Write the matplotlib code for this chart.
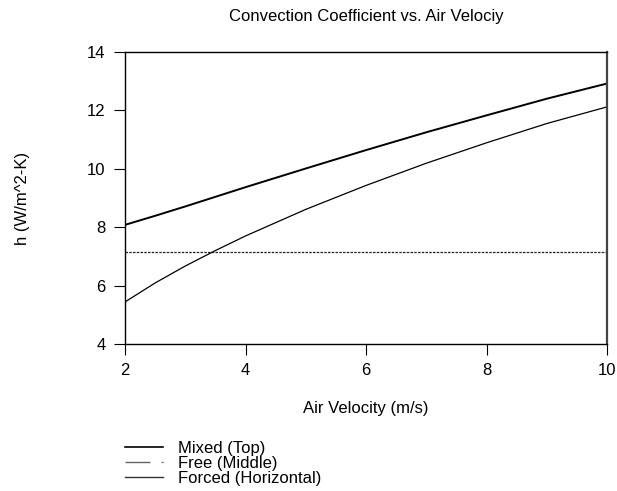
import numpy as np
import matplotlib.pyplot as plt
from matplotlib.lines import Line2D

plt.rcParams['font.family'] = ['Liberation Sans', 'DejaVu Sans']

# 读图得到的数据
velocity = [2, 2.5, 3, 3.5, 4, 5, 6, 7, 8, 9, 10]
h_mixed = [8.08, 8.39, 8.71, 9.04, 9.37, 10.01, 10.64, 11.25, 11.83, 12.40, 12.92]
h_forced = [5.44, 6.09, 6.67, 7.20, 7.70, 8.61, 9.43, 10.19, 10.89, 11.55, 12.12]
h_free = [7.16] * len(velocity)

fig = plt.figure(figsize=(6.17, 4.91), dpi=100)
ax = fig.add_axes([0.2026, 0.2994, 0.7812, 0.5947])

ax.plot(velocity, h_mixed, color="black", lw=1.4)
ax.plot(velocity, h_free, color="#222222", lw=0.9, linestyle=(0, (2, 1)))
ax.plot(velocity, h_forced, color="black", lw=0.9)

ax.set_xlim(2, 10)
ax.set_ylim(4, 14)
ax.set_xticks([2, 4, 6, 8, 10])
ax.set_yticks([4, 6, 8, 10, 12, 14])
ax.tick_params(direction="out", length=8, width=0.8, labelsize=12, pad=6,
               top=False, right=False)
for s in ax.spines.values():
    s.set_linewidth(1.0)
ax.spines["right"].set_linewidth(1.6)
ax.spines["right"].set_color("#444444")

ax.set_title("Convection Coefficient vs. Air Velociy", fontsize=12, pad=22)
ax.set_xlabel("Air Velocity (m/s)", fontsize=12, labelpad=16)
ax.set_ylabel("h (W/m^2-K)", fontsize=12, labelpad=41)

# 图例放在坐标轴下方
handles = [
    Line2D([], [], color="black", lw=1.2),
    Line2D([], [], color="#666666", lw=1.0, linestyle=(0, (18, 8, 2, 30))),
    Line2D([], [], color="#333333", lw=1.0),
]
labels = ["Mixed (Top)", "Free (Middle)", "Forced (Horizontal)"]
fig.legend(handles, labels, loc="upper left", bbox_to_anchor=(125 / 617, 1 - 441 / 491),
           frameon=False, fontsize=12, handlelength=2.3, handletextpad=0.9,
           labelspacing=0.0, borderpad=0, borderaxespad=0)

fig.savefig("out.png", dpi=100)
